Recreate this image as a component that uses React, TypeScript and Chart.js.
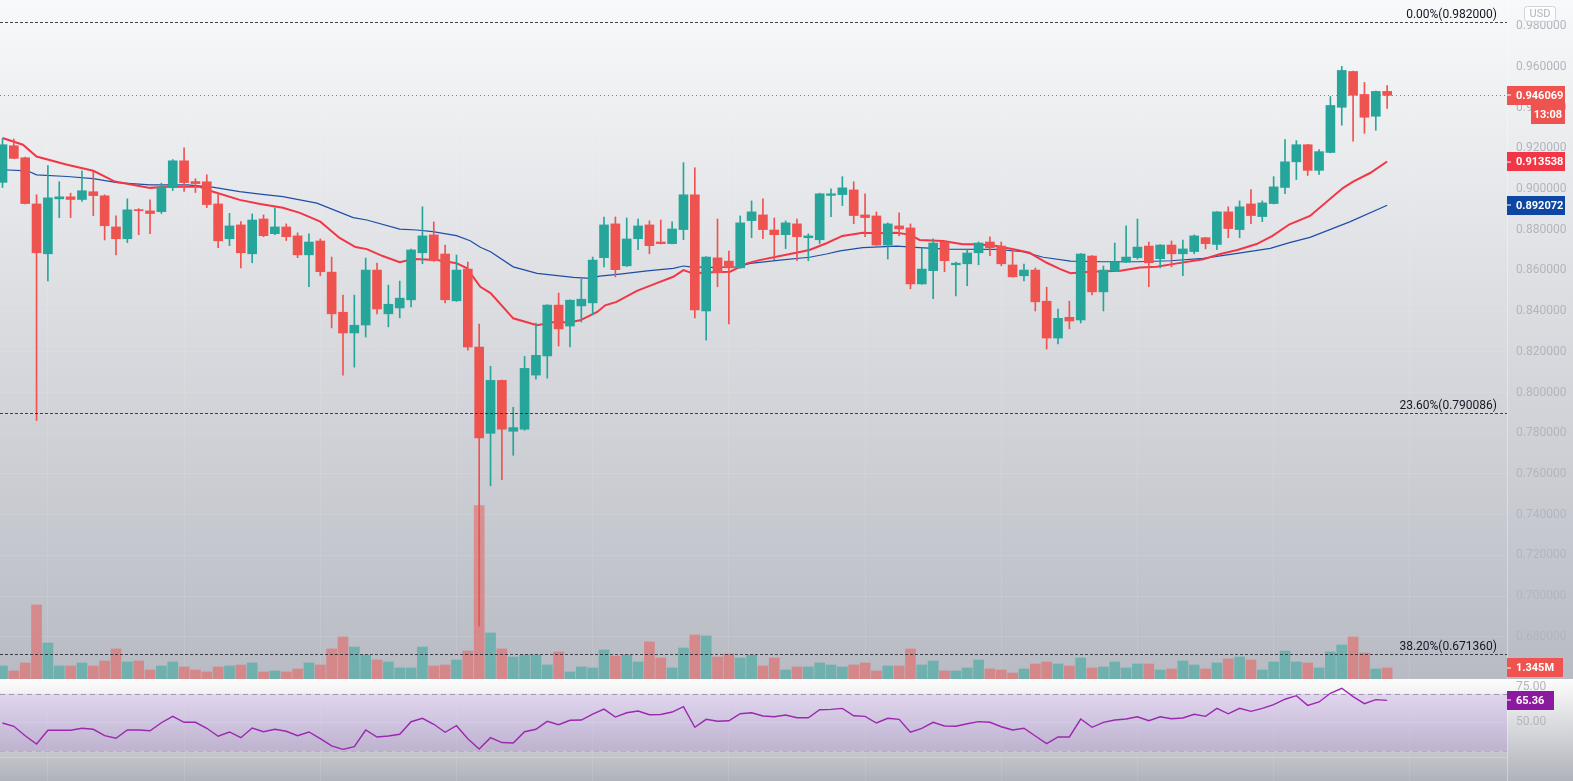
import React, { useEffect, useRef } from 'react';
import { Chart, registerables } from 'chart.js';

Chart.register(...registerables);

// ---------- DATA ----------
const opens = [0.9033,0.9213,0.9154,0.8927,0.8682,0.8952,0.8962,0.8949,0.8987,0.8967,0.8814,0.8756,0.8899,0.8893,0.8889,0.9008,0.9139,0.9037,0.9036,0.8927,0.8756,0.8824,0.8682,0.8853,0.8781,0.8814,0.8770,0.8677,0.8745,0.8592,0.8395,0.8293,0.8332,0.8602,0.8387,0.8416,0.8456,0.8687,0.8775,0.8681,0.8451,0.8607,0.8224,0.7800,0.8060,0.7810,0.7820,0.8086,0.8180,0.8430,0.8327,0.8426,0.8441,0.8663,0.8829,0.8623,0.8756,0.8824,0.8740,0.8732,0.8801,0.8972,0.8401,0.8662,0.8646,0.8613,0.8845,0.8873,0.8799,0.8776,0.8829,0.8761,0.8751,0.8969,0.8973,0.8996,0.8873,0.8868,0.8725,0.8819,0.8809,0.8534,0.8599,0.8740,0.8628,0.8633,0.8687,0.8740,0.8720,0.8627,0.8574,0.8602,0.8449,0.8268,0.8370,0.8357,0.8671,0.8495,0.8599,0.8641,0.8663,0.8720,0.8658,0.8725,0.8682,0.8693,0.8761,0.8728,0.8888,0.8801,0.8927,0.8865,0.8929,0.9008,0.9134,0.9218,0.9092,0.9180,0.9402,0.9578,0.9465,0.9358,0.9480];
const highs = [0.9248,0.9246,0.9157,0.8972,0.9115,0.9036,0.8980,0.9090,0.9085,0.8972,0.8868,0.8952,0.8904,0.8947,0.9029,0.9145,0.9203,0.9051,0.9070,0.8977,0.8881,0.8840,0.8878,0.8873,0.8908,0.8829,0.8785,0.8780,0.8755,0.8666,0.8479,0.8479,0.8661,0.8636,0.8528,0.8548,0.8705,0.8913,0.8839,0.8725,0.8676,0.8641,0.8337,0.8129,0.8062,0.7928,0.8178,0.8341,0.8432,0.8489,0.8456,0.8558,0.8666,0.8863,0.8863,0.8858,0.8853,0.8844,0.8848,0.8839,0.9130,0.9105,0.8668,0.8853,0.8696,0.8868,0.8942,0.8952,0.8858,0.8844,0.8853,0.8780,0.8980,0.9001,0.9061,0.9036,0.8977,0.8888,0.8834,0.8883,0.8829,0.8711,0.8755,0.8742,0.8641,0.8702,0.8740,0.8765,0.8740,0.8701,0.8632,0.8612,0.8518,0.8410,0.8449,0.8683,0.8673,0.8622,0.8735,0.8819,0.8853,0.8740,0.8727,0.8745,0.8750,0.8775,0.8763,0.8890,0.8913,0.8942,0.8997,0.8942,0.9061,0.9243,0.9238,0.9220,0.9194,0.9455,0.9603,0.9580,0.9524,0.9482,0.9509];
const lows = [0.9008,0.9149,0.8927,0.7863,0.8549,0.8860,0.8860,0.8939,0.8870,0.8750,0.8677,0.8737,0.8776,0.8781,0.8880,0.8993,0.8988,0.8983,0.8909,0.8712,0.8722,0.8613,0.8638,0.8766,0.8776,0.8747,0.8663,0.8520,0.8574,0.8318,0.8086,0.8125,0.8273,0.8387,0.8323,0.8367,0.8421,0.8633,0.8645,0.8441,0.8448,0.8209,0.6852,0.7542,0.7572,0.7692,0.7815,0.8066,0.8071,0.8229,0.8224,0.8347,0.8382,0.8618,0.8569,0.8620,0.8702,0.8682,0.8730,0.8730,0.8751,0.8367,0.8258,0.8520,0.8337,0.8611,0.8761,0.8756,0.8653,0.8707,0.8648,0.8648,0.8732,0.8865,0.8919,0.8830,0.8766,0.8723,0.8656,0.8770,0.8510,0.8532,0.8461,0.8594,0.8475,0.8525,0.8628,0.8673,0.8623,0.8567,0.8549,0.8401,0.8214,0.8239,0.8313,0.8342,0.8480,0.8401,0.8597,0.8639,0.8656,0.8520,0.8613,0.8618,0.8574,0.8682,0.8706,0.8702,0.8761,0.8761,0.8830,0.8840,0.8927,0.8978,0.9047,0.9067,0.9072,0.9178,0.9314,0.9235,0.9274,0.9289,0.9397];
const closes = [0.9218,0.9151,0.8929,0.8687,0.8957,0.8962,0.8949,0.8992,0.8968,0.8820,0.8756,0.8898,0.8894,0.8880,0.9011,0.9139,0.9032,0.9027,0.8924,0.8746,0.8819,0.8687,0.8848,0.8771,0.8814,0.8766,0.8677,0.8740,0.8594,0.8387,0.8293,0.8331,0.8602,0.8411,0.8434,0.8464,0.8701,0.8770,0.8648,0.8456,0.8602,0.8224,0.7777,0.8060,0.7820,0.7828,0.8119,0.8183,0.8430,0.8313,0.8454,0.8459,0.8651,0.8824,0.8604,0.8755,0.8819,0.8722,0.8732,0.8804,0.8972,0.8406,0.8666,0.8589,0.8613,0.8834,0.8888,0.8801,0.8776,0.8834,0.8766,0.8770,0.8977,0.8977,0.9006,0.8870,0.8860,0.8725,0.8829,0.8804,0.8534,0.8607,0.8735,0.8648,0.8636,0.8686,0.8735,0.8712,0.8633,0.8569,0.8602,0.8446,0.8268,0.8365,0.8352,0.8681,0.8495,0.8602,0.8640,0.8666,0.8715,0.8638,0.8725,0.8682,0.8706,0.8770,0.8732,0.8888,0.8806,0.8913,0.8870,0.8932,0.9011,0.9134,0.9218,0.9092,0.9184,0.9411,0.9583,0.9461,0.9353,0.9480,0.946069];
const volumes = [1.59,0.98,1.96,9.05,4.40,1.59,1.59,1.96,1.59,2.20,3.67,2.08,2.20,1.10,1.59,2.08,1.47,1.10,0.86,1.47,1.59,1.71,1.96,0.86,0.98,0.86,1.22,1.96,1.71,3.67,5.14,3.91,2.94,2.32,2.08,1.35,1.35,3.91,1.59,1.71,2.32,3.42,21.2,5.63,3.67,2.69,2.94,2.94,1.71,3.30,0.86,1.47,1.35,3.55,2.81,2.94,2.08,4.53,2.57,1.35,3.79,5.38,5.26,2.69,3.06,2.57,2.94,1.59,2.57,1.10,1.47,1.47,1.96,1.71,1.47,1.71,1.96,0.98,1.59,1.59,3.67,1.71,2.20,0.98,0.98,1.35,2.32,1.22,1.10,0.73,1.22,1.83,2.08,1.83,1.59,2.57,1.35,1.47,2.08,1.35,1.83,1.83,1.10,1.22,2.20,1.71,1.22,1.96,2.45,2.69,2.32,1.10,2.08,3.42,2.08,1.96,1.35,3.30,4.16,5.14,3.18,1.22,1.345];
const rsi = [49.5,47.2,40.6,34.8,44.4,44.4,44.4,45.8,45.1,40.6,38.8,44.6,44.6,44.1,49.7,54.2,50.0,50.0,45.8,40.2,43.2,39.2,46.0,43.4,45.1,43.7,40.6,43.2,38.5,33.4,31.0,32.9,44.6,39.7,40.4,41.6,50.4,52.8,48.6,43.0,47.6,38.5,31.3,39.2,35.8,35.5,43.4,45.1,50.7,48.3,51.4,51.6,55.8,59.3,53.7,56.7,57.9,55.3,55.5,57.2,61.0,46.5,52.1,50.7,51.1,56.0,56.7,54.4,53.9,55.1,53.2,53.2,58.8,59.1,59.8,54.6,54.2,49.5,52.8,52.1,43.0,45.8,50.0,47.4,47.2,49.0,50.5,50.0,46.9,44.6,45.8,40.4,35.0,39.7,39.7,52.3,46.5,50.0,51.6,52.3,53.9,51.1,53.9,52.5,53.0,55.6,54.2,59.8,56.0,59.8,57.7,59.8,62.4,66.2,68.7,61.9,64.3,70.4,73.9,68.0,63.1,65.9,65.36];

const emaFastX = [0,1.8,3,5.7,8,9.9,13,14.5,17.4,18.5,20.9,22.7,24.7,26.2,28,29.7,31.1,32.1,33.5,35,36.2,38.3,40,40.9,42.1,43,45,47.1,48.5,50,50.9,52.4,53.1,54.1,55.9,57.7,59.1,60,60.8,62.6,64.1,65.6,66.7,68.5,69.6,71.1,72.6,74,75.8,77,78.8,80,80.8,82.9,84.6,85.9,87.6,89.4,90.5,92,93.2,94.1,95.8,98.5,100.2,101.7,103.5,105.8,107.3,108.8,110.5,111.9,113.4,115.2,118.1,119,120.5,122];
const emaFast = [0.9251,0.9218,0.9160,0.9120,0.9090,0.9037,0.9006,0.9011,0.9011,0.8988,0.8947,0.8927,0.8908,0.8883,0.8840,0.8760,0.8715,0.8705,0.8671,0.8641,0.8656,0.8651,0.8636,0.8612,0.8520,0.8489,0.8365,0.8331,0.8346,0.8346,0.8355,0.8396,0.8429,0.8446,0.8500,0.8539,0.8569,0.8602,0.8586,0.8591,0.8594,0.8635,0.8651,0.8671,0.8684,0.8701,0.8734,0.8770,0.8786,0.8783,0.8786,0.8775,0.8750,0.8745,0.8729,0.8729,0.8720,0.8701,0.8687,0.8638,0.8607,0.8587,0.8594,0.8599,0.8615,0.8618,0.8635,0.8655,0.8681,0.8701,0.8730,0.8770,0.8827,0.8868,0.9005,0.9037,0.9079,0.913538];
const emaSlowX = [0,2.2,3,5.7,8,10.1,13,16.3,18.5,20.9,22.7,24.7,27.7,30.9,32.1,35,36.5,37.9,40,41.2,42.1,43,45,47.1,50.3,51.8,52.6,54.4,56.8,59.1,60,60.6,62.6,64.7,65.9,68.5,71.1,72.6,73.8,75.8,78.8,80.8,83.2,87.6,89.9,91.7,94.1,97,100,102.9,105.8,108.8,111.7,113.4,115.2,118.7,122];
const emaSlow = [0.9095,0.9090,0.9070,0.9062,0.9051,0.9032,0.9021,0.9021,0.9010,0.8988,0.8975,0.8963,0.8931,0.8860,0.8848,0.8803,0.8799,0.8791,0.8771,0.8746,0.8714,0.8692,0.8618,0.8586,0.8566,0.8561,0.8572,0.8582,0.8598,0.8610,0.8622,0.8618,0.8615,0.8618,0.8635,0.8651,0.8665,0.8681,0.8696,0.8712,0.8720,0.8712,0.8705,0.8704,0.8692,0.8665,0.8646,0.8643,0.8643,0.8648,0.8660,0.8684,0.8709,0.8737,0.8763,0.8839,0.892072];

const priceTicks = [0.68,0.70,0.72,0.74,0.76,0.78,0.80,0.82,0.84,0.86,0.88,0.90,0.92,0.94,0.96,0.98];
const rsiTicks = [25, 50, 75];
const gridIdx = [4,16,28,40,52,64,76,88,100,112,124];
const fibPct = [0, 23.6, 38.2];
const fibPrices = [0.982, 0.790086, 0.67136];
const countdown = '13:08';
const currency = 'USD';

// ---------- STYLE ----------
const UP = '#26a69a';
const DOWN = '#ef5350';
const UP_VOL = 'rgba(38,166,154,0.5)';
const DOWN_VOL = 'rgba(239,83,80,0.5)';
const EMA_FAST_C = '#f23645';
const EMA_SLOW_C = '#1d4fa6';
const EMA_SLOW_BOX = '#0d47a1';
const RSI_C = '#9c27b0';
const RSI_BOX = '#8c1a9e';
const GRID = 'rgba(255,255,255,0.10)';
const TICK_C = '#b2b5be';
const FONT = 'Roboto, "Noto Sans", sans-serif';

const X_MIN = -0.22, X_MAX = 132.56;
const PRICE_MIN = 0.65926, PRICE_MAX = 0.99292;
const VOL_MAX = 83;
const RSI_MIN = 8.8, RSI_MAX = 80.4;
const W = 1573, H_MAIN = 679, H_RSI = 102, AXIS_W = 66;

const isUp = (i: number) => closes[i] >= opens[i];

function drawBox(ctx: CanvasRenderingContext2D, text: string, x0: number, x1: number, yc: number, color: string, align: 'left' | 'right', tick = true) {
  const h = 19;
  const y0 = Math.round(yc - h / 2);
  ctx.fillStyle = color;
  ctx.fillRect(x0, y0, x1 - x0, h);
  if (tick) {
    ctx.fillStyle = '#ffffff';
    ctx.fillRect(x0, Math.round(yc) - 0.5, 4, 1);
  }
  ctx.fillStyle = '#ffffff';
  ctx.font = `bold 11px ${FONT}`;
  ctx.textBaseline = 'middle';
  ctx.textAlign = align;
  ctx.fillText(text, align === 'left' ? x0 + 9 : x1 - 3, y0 + h / 2 + 0.5);
}

function fitAxis(s: any) {
  s.width = AXIS_W;
  s.paddingTop = 0;
  s.paddingBottom = 0;
}

export default function App() {
  const mainRef = useRef<HTMLCanvasElement>(null);
  const rsiRef = useRef<HTMLCanvasElement>(null);

  useEffect(() => {
    document.body.style.margin = '0';
    const idx = closes.map((_, i) => i);
    const candleColors = idx.map((i) => (isUp(i) ? UP : DOWN));

    const xScale: any = {
      type: 'linear',
      min: X_MIN,
      max: X_MAX,
      offset: false,
      border: { display: false },
      grid: { color: GRID, drawTicks: false, offset: false },
      ticks: { display: false },
      afterBuildTicks: (s: any) => { s.ticks = gridIdx.map((v) => ({ value: v })); },
      afterFit: (s: any) => { s.height = 0; s.paddingLeft = 0; s.paddingRight = 0; },
    };

    const mainBg = {
      id: 'mainBg',
      beforeDraw(chart: any) {
        const { ctx, width, height } = chart;
        const g = ctx.createLinearGradient(0, 0, 0, height);
        g.addColorStop(0, '#f8f9fa');
        g.addColorStop(1, '#b8bbc3');
        ctx.save();
        ctx.fillStyle = g;
        ctx.fillRect(0, 0, width, height);
        ctx.restore();
      },
    };

    const mainOverlay = {
      id: 'mainOverlay',
      afterDatasetsDraw(chart: any) {
        const { ctx, chartArea: a, scales } = chart;
        const y = scales.y;
        ctx.save();
        fibPrices.forEach((p, k) => {
          const py = Math.round(y.getPixelForValue(p)) + 0.5;
          ctx.setLineDash([3, 2]);
          ctx.strokeStyle = 'rgba(35,37,45,0.85)';
          ctx.lineWidth = 1;
          ctx.beginPath();
          ctx.moveTo(a.left, py);
          ctx.lineTo(a.right, py);
          ctx.stroke();
          ctx.setLineDash([]);
          ctx.fillStyle = '#131722';
          ctx.font = `12px ${FONT}`;
          ctx.textAlign = 'right';
          ctx.textBaseline = 'bottom';
          ctx.fillText(`${fibPct[k].toFixed(2)}%(${p.toFixed(6)})`, a.right - 10, py - 1.5);
        });
        const last = closes[closes.length - 1];
        const ly = Math.round(y.getPixelForValue(last)) + 0.5;
        ctx.setLineDash([1, 3]);
        ctx.strokeStyle = DOWN;
        ctx.beginPath();
        ctx.moveTo(a.left, ly);
        ctx.lineTo(a.right, ly);
        ctx.stroke();
        ctx.restore();
      },
      afterDraw(chart: any) {
        const { ctx, chartArea: a, scales } = chart;
        const y = scales.y;
        const yv = scales.yv;
        const n = closes.length - 1;
        const x0 = a.right;
        ctx.save();
        const last = closes[n];
        const ly = y.getPixelForValue(last);
        const lastCol = isUp(n) ? UP : DOWN;
        drawBox(ctx, last.toFixed(6), x0, x0 + 58, ly, lastCol, 'left');
        drawBox(ctx, countdown, x0 + 24, x0 + 58, ly + 19, lastCol, 'right', false);
        const ef = emaFast[emaFast.length - 1];
        drawBox(ctx, ef.toFixed(6), x0, x0 + 58, y.getPixelForValue(ef), EMA_FAST_C, 'left');
        const es = emaSlow[emaSlow.length - 1];
        drawBox(ctx, es.toFixed(6), x0, x0 + 58, y.getPixelForValue(es), EMA_SLOW_BOX, 'left');
        const lv = volumes[n];
        const vy = Math.min(yv.getPixelForValue(lv), a.bottom - 9.5);
        drawBox(ctx, `${lv.toFixed(3)}M`, x0, x0 + 56, vy, lastCol, 'left');
        ctx.beginPath();
        const bx = x0 + 17.5, by = 6.5, bw = 31, bh = 15, r = 3;
        ctx.moveTo(bx + r, by);
        ctx.arcTo(bx + bw, by, bx + bw, by + bh, r);
        ctx.arcTo(bx + bw, by + bh, bx, by + bh, r);
        ctx.arcTo(bx, by + bh, bx, by, r);
        ctx.arcTo(bx, by, bx + bw, by, r);
        ctx.closePath();
        ctx.fillStyle = 'rgba(255,255,255,0.7)';
        ctx.fill();
        ctx.strokeStyle = '#d1d4dc';
        ctx.lineWidth = 1;
        ctx.stroke();
        ctx.fillStyle = TICK_C;
        ctx.font = `11px ${FONT}`;
        ctx.textAlign = 'center';
        ctx.textBaseline = 'middle';
        ctx.fillText(currency, bx + bw / 2, by + bh / 2 + 0.5);
        ctx.restore();
      },
    };

    const mainChart = new Chart(mainRef.current as HTMLCanvasElement, {
      type: 'bar',
      data: {
        datasets: [
          {
            type: 'bar',
            label: 'Volume',
            yAxisID: 'yv',
            data: volumes.map((v, i) => ({ x: i, y: v })),
            backgroundColor: idx.map((i) => (isUp(i) ? UP_VOL : DOWN_VOL)),
            barThickness: 10,
            grouped: false,
            borderWidth: 0,
            order: 10,
          } as any,
          {
            type: 'line',
            label: 'EMA fast',
            yAxisID: 'y',
            data: emaFastX.map((x, k) => ({ x, y: emaFast[k] })),
            borderColor: EMA_FAST_C,
            borderWidth: 2,
            pointRadius: 0,
            tension: 0,
            order: 5,
          } as any,
          {
            type: 'line',
            label: 'EMA slow',
            yAxisID: 'y',
            data: emaSlowX.map((x, k) => ({ x, y: emaSlow[k] })),
            borderColor: EMA_SLOW_C,
            borderWidth: 1.2,
            pointRadius: 0,
            tension: 0,
            order: 5,
          } as any,
          {
            type: 'bar',
            label: 'Wicks',
            yAxisID: 'y',
            data: idx.map((i) => ({ x: i, y: [lows[i], highs[i]] })),
            backgroundColor: candleColors,
            barThickness: 1,
            grouped: false,
            borderWidth: 0,
            order: 2,
          } as any,
          {
            type: 'bar',
            label: 'Bodies',
            yAxisID: 'y',
            data: idx.map((i) => ({ x: i, y: [opens[i], closes[i]] })),
            backgroundColor: candleColors,
            barThickness: 9,
            minBarLength: 1,
            grouped: false,
            borderWidth: 0,
            order: 1,
          } as any,
        ],
      },
      options: {
        responsive: false,
        maintainAspectRatio: false,
        animation: false,
        events: [],
        layout: { padding: 0, autoPadding: false } as any,
        plugins: { legend: { display: false }, tooltip: { enabled: false } },
        scales: {
          x: xScale,
          y: {
            type: 'linear',
            position: 'right',
            min: PRICE_MIN,
            max: PRICE_MAX,
            border: { display: true, color: 'rgba(255,255,255,0.35)' },
            grid: { color: GRID, drawTicks: false },
            ticks: {
              color: TICK_C,
              font: { family: FONT, size: 12 },
              padding: 9,
              callback: (v: any) => Number(v).toFixed(6),
            },
            afterBuildTicks: (s: any) => { s.ticks = priceTicks.map((v) => ({ value: v })); },
            afterFit: fitAxis,
          } as any,
          yv: { type: 'linear', display: false, min: 0, max: VOL_MAX } as any,
        },
      },
      plugins: [mainBg, mainOverlay],
    });

    const rsiBg = {
      id: 'rsiBg',
      beforeDraw(chart: any) {
        const { ctx, width, height } = chart;
        const g = ctx.createLinearGradient(0, 0, 0, height);
        g.addColorStop(0, '#fcfcfc');
        g.addColorStop(1, '#b0b2ba');
        ctx.save();
        ctx.fillStyle = g;
        ctx.fillRect(0, 0, width, height);
        ctx.restore();
      },
      beforeDatasetsDraw(chart: any) {
        const { ctx, chartArea: a, scales } = chart;
        const y = scales.y;
        const yt = y.getPixelForValue(70);
        const yb = y.getPixelForValue(30);
        ctx.save();
        ctx.fillStyle = 'rgba(150,80,220,0.17)';
        ctx.fillRect(a.left, yt, a.right - a.left, yb - yt);
        ctx.setLineDash([5, 4]);
        ctx.lineWidth = 1;
        ctx.strokeStyle = 'rgba(140,125,165,0.75)';
        ctx.beginPath();
        ctx.moveTo(a.left, Math.round(yt) + 0.5);
        ctx.lineTo(a.right, Math.round(yt) + 0.5);
        ctx.stroke();
        ctx.strokeStyle = 'rgba(140,125,165,0.35)';
        ctx.beginPath();
        ctx.moveTo(a.left, Math.round(yb) + 0.5);
        ctx.lineTo(a.right, Math.round(yb) + 0.5);
        ctx.stroke();
        ctx.restore();
      },
      afterDraw(chart: any) {
        const { ctx, chartArea: a, scales } = chart;
        const v = rsi[rsi.length - 1];
        ctx.save();
        drawBox(ctx, v.toFixed(2), a.right, a.right + 47, scales.y.getPixelForValue(v), RSI_BOX, 'left');
        ctx.restore();
      },
    };

    const rsiChart = new Chart(rsiRef.current as HTMLCanvasElement, {
      type: 'line',
      data: {
        datasets: [
          {
            label: 'RSI',
            data: rsi.map((v, i) => ({ x: i, y: v })),
            borderColor: RSI_C,
            borderWidth: 1.4,
            pointRadius: 0,
            tension: 0,
          } as any,
        ],
      },
      options: {
        responsive: false,
        maintainAspectRatio: false,
        animation: false,
        events: [],
        layout: { padding: 0, autoPadding: false } as any,
        plugins: { legend: { display: false }, tooltip: { enabled: false } },
        scales: {
          x: xScale,
          y: {
            type: 'linear',
            position: 'right',
            min: RSI_MIN,
            max: RSI_MAX,
            border: { display: true, color: 'rgba(255,255,255,0.35)' },
            grid: { color: 'rgba(255,255,255,0.22)', drawTicks: false },
            ticks: {
              color: TICK_C,
              font: { family: FONT, size: 12 },
              padding: 9,
              callback: (v: any) => (Number(v) === 25 ? '' : Number(v).toFixed(2)),
            },
            afterBuildTicks: (s: any) => { s.ticks = rsiTicks.map((v) => ({ value: v })); },
            afterFit: fitAxis,
          } as any,
        },
      },
      plugins: [rsiBg],
    });

    return () => {
      mainChart.destroy();
      rsiChart.destroy();
    };
  }, []);

  return (
    <div style={{ position: 'fixed', left: 0, top: 0, width: W, height: H_MAIN + H_RSI, overflow: 'hidden' }}>
      <canvas ref={mainRef} width={W} height={H_MAIN} style={{ display: 'block', width: W, height: H_MAIN }} />
      <canvas ref={rsiRef} width={W} height={H_RSI} style={{ display: 'block', width: W, height: H_RSI }} />
    </div>
  );
}
